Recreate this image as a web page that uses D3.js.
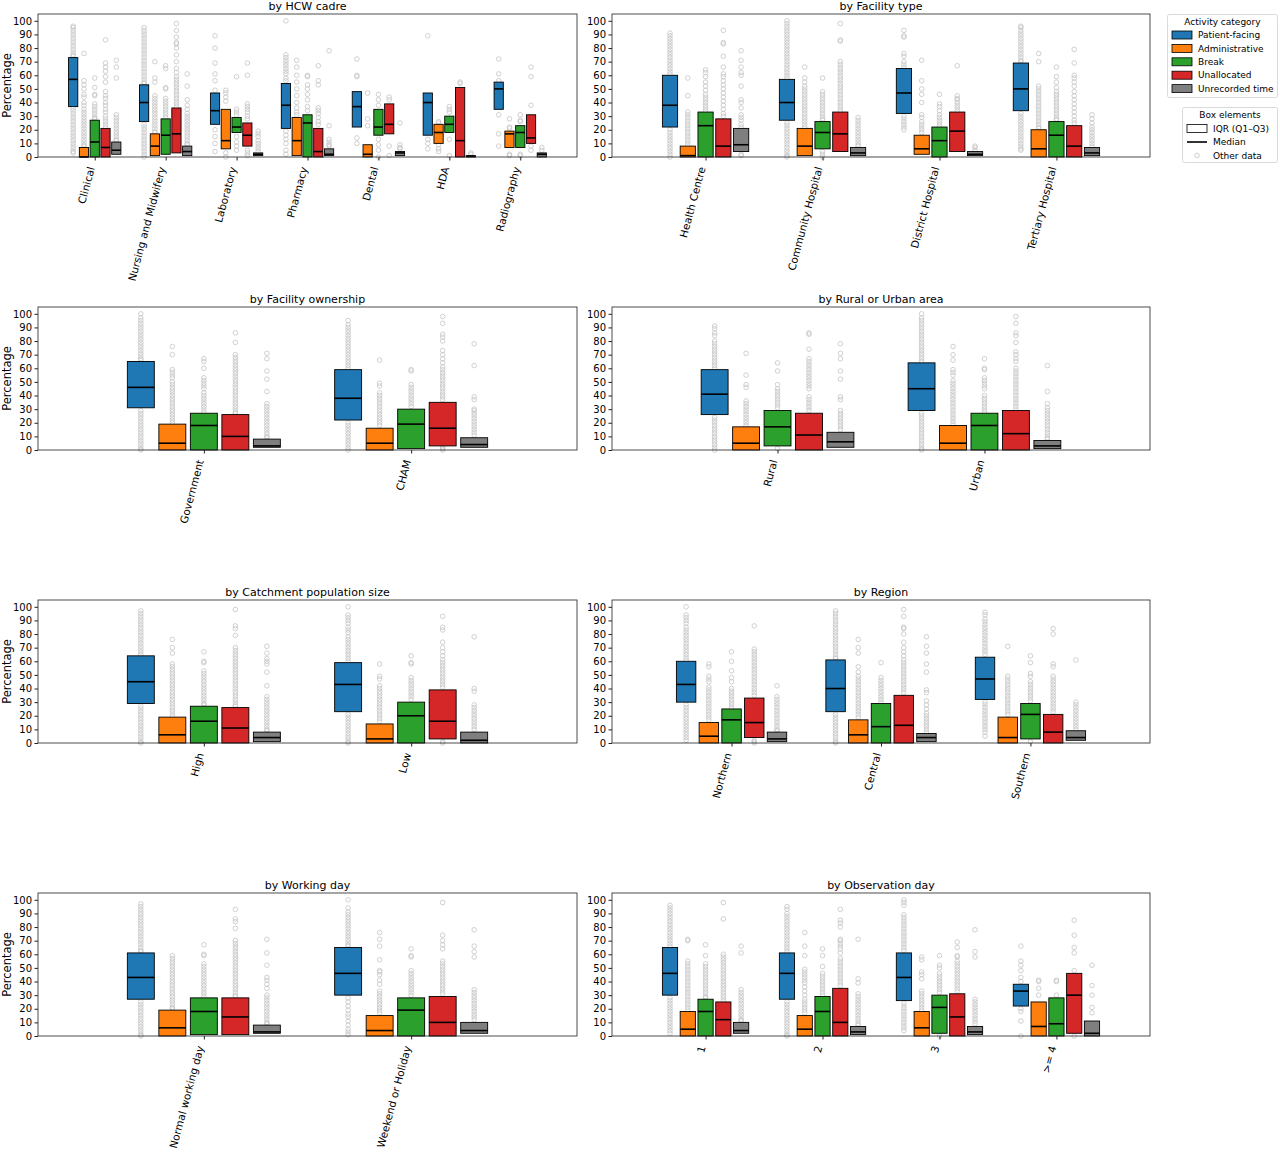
<!DOCTYPE html>
<html>
<head>
<meta charset="utf-8">
<script src="https://cdn.jsdelivr.net/npm/d3@7"></script>
<style>
  body { margin: 0; background: #fff; }
  text { font-family: "DejaVu Sans", sans-serif; fill: #000; }
</style>
</head>
<body>
<div id="chart"></div>
<script>
// Activity categories (one box per category inside every group)
var categories = ["Patient-facing", "Administrative", "Break", "Unallocated", "Unrecorded time"];
var categoryColors = ["#1f77b4", "#ff7f0e", "#2ca02c", "#d62728", "#7f7f7f"];
var yTicks = [0, 10, 20, 30, 40, 50, 60, 70, 80, 90, 100];

var panelTitles = ["by HCW cadre", "by Facility type", "by Facility ownership", "by Rural or Urban area",
    "by Catchment population size", "by Region", "by Working day", "by Observation day"];

// Each box is [Q1, median, Q3]; "other data" are the points drawn outside the box
var cadreGroups = ["Clinical", "Nursing and Midwifery", "Laboratory", "Pharmacy", "Dental", "HDA", "Radiography"];
var cadreStats = [
    [[37, 57, 73], [0, 0, 7], [0, 11, 27], [0, 7, 21], [2, 5, 11]],
    [[26, 40, 53], [1, 8, 17], [2, 16, 28], [3, 17, 36], [1, 4, 8]],
    [[24, 34, 47], [6, 12, 35], [18, 22, 29], [8, 16, 25], [1, 2, 3]],
    [[21, 38, 54], [1, 12, 29], [0, 25, 31], [0, 4, 21], [1, 2, 6]],
    [[22, 37, 48], [0, 2, 9], [16, 22, 35], [17, 24, 39], [1, 3, 4]],
    [[16, 40, 47], [10, 18, 24], [18, 24, 30], [0, 12, 51], [0, 0.5, 1]],
    [[35, 50, 55], [7, 17, 19], [7, 18, 23], [10, 14, 31], [0, 2, 3]]
];
var cadreOther = [
    ["96 95 93 91 89 87 85 83 81 79 77 75 74 36 34 32 30 28 26 24 22 20 18 16 14 12 10 8 6 4 3",
     "76 56 53 50 46 44 40 38 35 33 31 29 27 25 23 21 19 17 15 13 11 9 8",
     "58 51 46 45 39 37 35 33 31 29 28",
     "86 69 66 63 59 55 48 45 43 40 38 35 33 30 28 26 24 22",
     "71 66 58 31 29 27 25 23 21 19 17 15 13 12"],
    ["95 93 91 89 87 85 83 81 79 77 75 73 71 69 67 65 63 61 59 57 55 54 24 22 20 18 16 14 12 10 8 6 4 2 0",
     "70 58 55 45 43 41 39 37 35 33 31 29 27 25 23 21 19 18",
     "67 65 51 50 43 41 39 37 35 33 31 29",
     "98 93 88 84 83 80 75 70 65 62 59 57 55 53 51 49 47 45 43 41 39 37",
     "61 52 42 38 35 32 30 28 26 24 22 20 18 16 14 12 10 9"],
    ["89 80 69 61 56 49 20 15 10 4", "49 47 44 41 3 0", "59 35 33 31 15 11 8 5",
     "69 60 39 37 35 33 30 28 5 3 1", "19 17 15 12 10 8 6 4"],
    ["100 75 73 71 69 67 65 63 61 58 56 19 16 13 10 5 2", "71 66 60 55 50 45 40 36 33 31",
     "60 59 53 50 46 42 37 34", "67 56 53 36 34 32 29 26 24", "78 23 13 11 9 8"],
    ["72 60 59 14 10", "47 28 23", "46 42 38 13 9 5 0", "44 42 8 1", "25 9 7 6"],
    ["89 13 10 6", "26 25 9 6 4", "37 35 33 13 1", "55 54", "3 2"],
    ["72 61 56 31 17 8", "28 22 21 2 1", "31 27 26 2 1", "66 59 38 8 5", "7 5"]
];

var typeGroups = ["Health Centre", "Community Hospital", "District Hospital", "Tertiary Hospital"];
var typeStats = [
    [[22, 38, 60], [0, 1, 8], [0, 23, 33], [0, 8, 28], [4, 9, 21]],
    [[27, 40, 57], [1, 8, 21], [6, 18, 26], [4, 17, 33], [1, 3, 7]],
    [[32, 47, 65], [2, 6, 16], [0, 12, 22], [4, 19, 33], [1, 2, 4]],
    [[34, 50, 69], [0, 6, 20], [0, 16, 26], [0, 8, 23], [1, 3, 7]]
];
var typeOther = [
    ["91 89 87 85 83 81 79 77 75 73 71 69 67 65 63 61 20 18 16 14 12 10 8 6 4 2 0",
     "58 45 33 31 29 27 25 23 21 19 17 15 13 11 9",
     "64 62 59 55 52 49 46 44 42 40 38 36 34",
     "93 84 83 74 66 61 59 56 53 50 47 44 41 38 35 32 30",
     "78 71 66 62 60 52 42 40 36 31 29 27 24 22 2 1"],
    ["100 98 96 94 92 90 88 86 84 82 80 78 76 74 72 70 68 66 64 62 60 58 25 23 21 19 17 15 13 11 9 7 5 3 1 0",
     "66 58 55 52 50 48 46 44 42 40 38 36 34 32 30 28 26 24 22",
     "58 48 46 44 42 40 38 36 34 32 30 28 27 4 2 0",
     "98 86 85 70 68 66 64 62 60 58 56 54 52 50 48 46 44 42 40 38 36 34",
     "29 27 25 23 21 19 17 15 13 11 9 8"],
    ["93 89 88 76 74 70 68 66 30 28 26 24 22 20",
     "71 56 50 46 40 31 29 26 24 22 20 18",
     "46 39 37 34 31 29 27 25 23",
     "67 45 43 42 40 38 36 34",
     "8 7 5"],
    ["96 95 93 91 89 87 85 83 81 79 77 75 73 71 70 32 30 28 26 24 22 20 18 16 14 12 10 8 6 5",
     "76 70 52 50 48 46 44 42 40 38 36 34 32 30 28 26 24 22 21",
     "66 59 55 51 48 46 44 42 40 38 36 34 32 30 28 27",
     "79 69 60 58 55 52 48 45 42 39 36 33 30 27 25",
     "31 28 25 22 20 18 16 14 12 10 8"]
];

var ownershipGroups = ["Government", "CHAM"];
var ownershipStats = [
    [[31, 46, 65], [0, 5, 19], [0, 18, 27], [0, 10, 26], [2, 3, 8]],
    [[22, 38, 59], [0, 5, 16], [1, 19, 30], [3, 16, 35], [2, 4, 9]]
];
var ownershipOther = [
    ["100 97 95 93 91 89 87 85 83 81 79 77 75 73 71 69 67 66 29 27 25 23 21 19 17 15 13 11 9 7 5 3 1 0",
     "76 70 59 57 55 53 50 48 46 44 42 40 38 36 34 32 30 28 26 24 22 20",
     "67 65 60 53 51 49 47 45 42 40 38 36 34 32 30 28",
     "86 79 70 68 66 64 62 60 58 56 54 52 50 48 46 44 42 40 38 36 34 32 30 28 27",
     "71 67 58 52 43 34 32 30 28 26 24 22 20 18 16 14 12 10 9"],
    ["95 92 90 88 86 84 82 80 78 76 74 72 70 68 66 64 62 60 20 18 16 14 12 10 8 6 4 2 0",
     "66 49 47 42 40 38 36 34 32 30 28 26 24 22 20 18",
     "59 58 48 46 44 42 40 38 36 34 32",
     "98 93 85 83 80 73 70 67 64 61 59 57 55 53 51 49 47 45 43 41 39 37 2 1 0",
     "78 62 39 37 30 29 27 25 23 21 19 17 15 13 11"]
];

var areaGroups = ["Rural", "Urban"];
var areaStats = [
    [[26, 41, 59], [0, 5, 17], [3, 17, 29], [0, 11, 27], [2, 6, 13]],
    [[29, 45, 64], [0, 5, 18], [0, 18, 27], [0, 12, 29], [1, 3, 7]]
];
var areaOther = [
    ["91 89 86 84 80 78 76 74 72 70 68 66 64 62 60 24 22 20 18 16 14 12 10 8 6 4 2 0",
     "71 55 48 46 36 34 32 30 28 26 24 22 20 18",
     "64 58 48 45 43 41 39 37 35 33 31 1",
     "86 85 74 67 65 63 61 59 57 55 53 51 49 47 45 39 37 35 33 31 29",
     "78 71 67 58 52 39 37 29 27 25 23 21 19 17 15"],
    ["100 97 95 93 91 89 87 85 83 81 79 77 75 73 71 69 67 65 27 25 23 21 19 17 15 13 11 9 7 5 3 1 0",
     "76 70 66 59 57 55 51 49 47 45 43 41 39 37 35 33 31 29 27 25 23 21 19",
     "67 60 59 53 51 49 47 45 40 38 36 34 32 30 28",
     "98 93 86 84 79 72 70 67 65 60 58 56 54 52 50 48 46 44 42 40 38 36 34 32 30",
     "62 43 34 31 29 27 25 23 21 19 17 15 13 11 9 8"]
];

var catchmentGroups = ["High", "Low"];
var catchmentStats = [
    [[29, 45, 64], [0, 6, 19], [0, 16, 27], [0, 11, 26], [1, 4, 8]],
    [[23, 43, 59], [0, 3, 14], [0, 20, 30], [3, 16, 39], [0, 2, 8]]
];
var catchmentOther = [
    ["97 95 93 91 89 87 85 83 81 79 77 75 73 71 69 67 65 27 25 23 21 19 17 15 13 11 9 7 5 3 1 0",
     "76 70 66 58 56 54 52 50 48 46 44 42 40 38 36 34 32 30 28 26 24 22 20",
     "67 60 59 53 51 49 47 45 43 41 39 37 35 33 31 29 28",
     "98 86 84 79 70 68 66 64 62 60 58 56 54 52 50 48 46 44 42 40 38 36 34 32 30 28 27",
     "71 66 62 60 58 52 42 34 32 30 28 26 24 22 20 18 16 14 12 10 9"],
    ["100 94 92 90 88 85 83 81 78 76 74 72 70 68 66 64 62 60 21 19 17 15 13 11 9 7 5 3 1 0",
     "58 49 47 42 40 38 36 34 32 30 28 26 24 22 20 18 16",
     "64 59 58 48 46 44 42 40 38 36 34 32",
     "93 85 83 74 70 67 64 61 59 57 55 53 51 49 47 45 43 41 1 0",
     "78 40 38 28 26 24 22 20 18 16 14 12 10"]
];

var regionGroups = ["Northern", "Central", "Southern"];
var regionStats = [
    [[30, 43, 60], [0, 5, 15], [0, 17, 25], [4, 15, 33], [1, 3, 8]],
    [[23, 40, 61], [0, 6, 17], [0, 12, 29], [0, 13, 35], [1, 4, 7]],
    [[32, 47, 63], [0, 4, 19], [3, 21, 29], [0, 8, 21], [2, 4, 9]]
];
var regionOther = [
    ["100 94 92 90 88 85 83 81 79 77 75 73 71 69 67 65 63 61 28 26 24 22 20 18 16 14 12 10 8 6 4 2",
     "58 56 49 47 45 41 39 37 35 33 31 29 27 25 23 21 19 17",
     "67 60 53 48 45 40 38 36 34 32 30 28 26",
     "86 69 67 65 63 61 59 57 55 53 51 49 47 45 43 41 39 37 35 2 1 0",
     "42 34 32 30 28 26 24 22 20 18 16 14 12 10 9"],
    ["97 95 93 91 89 87 85 83 81 79 77 75 73 71 69 67 65 63 62 21 19 17 15 13 11 9 7 5 3 1 0",
     "76 70 66 56 52 49 47 45 43 41 39 37 35 33 31 29 27 25 23 21 19",
     "59 48 46 44 42 40 38 36 34 32 30",
     "98 93 85 84 80 74 70 67 64 61 59 57 55 53 51 49 47 45 43 41 39 37",
     "78 71 66 58 52 39 37 31 28 25 22 20 18 16 14 12 10 8"],
    ["96 94 91 89 87 85 83 81 79 77 75 73 71 69 67 65 30 28 26 24 22 20 18 16 14 12 10 8 5",
     "71 49 47 45 43 41 39 37 35 33 31 29 27 25 23 21",
     "64 59 51 49 45 43 41 39 37 35 33 31 1",
     "84 80 58 56 49 47 45 43 41 39 37 35 33 31 29 27 25 23",
     "61 30 28 26 24 22 20 18 16 14 12 10"]
];

var workdayGroups = ["Normal working day", "Weekend or Holiday"];
var workdayStats = [
    [[27, 43, 61], [0, 6, 19], [1, 18, 28], [1, 14, 28], [2, 3, 8]],
    [[30, 46, 65], [0, 4, 15], [0, 19, 28], [0, 10, 29], [2, 4, 10]]
];
var workdayOther = [
    ["97 95 93 91 89 87 85 83 81 79 77 75 73 71 69 67 65 63 62 25 23 21 19 17 15 13 11 9 7 5 3 1 0",
     "59 57 55 53 51 49 47 45 43 41 39 37 35 33 31 29 27 25 23 21 20",
     "67 60 59 53 51 49 47 45 43 41 39 37 35 33 31 29",
     "93 86 84 79 70 68 66 64 62 60 58 56 54 52 50 48 46 44 42 40 38 36 34 32 30 29",
     "71 61 52 43 41 38 35 30 28 26 24 22 20 18 16 14 12 10 9"],
    ["100 94 91 89 87 85 83 81 79 77 75 73 71 69 67 66 28 25 22 19 16 14 11 8 5 3 1",
     "76 71 66 56 48 47 45 41 38 33 31 29 27 25 23 21 19 17",
     "64 59 58 48 46 44 42 40 38 36 34 32 30",
     "98 74 70 67 64 55 53 51 49 47 45 43 41 39 37 35 33 31",
     "78 66 62 58 34 32 30 28 26 24 22 20 18 16 14 12"]
];

var obsdayGroups = ["1", "2", "3", ">= 4"];
var obsdayStats = [
    [[30, 46, 65], [0, 5, 18], [0, 18, 27], [0, 12, 25], [2, 4, 10]],
    [[27, 46, 61], [0, 5, 15], [0, 18, 29], [0, 10, 35], [1, 3, 7]],
    [[26, 43, 61], [0, 6, 18], [2, 21, 30], [0, 14, 31], [1, 3, 7]],
    [[22, 33, 38], [0, 7, 25], [0, 9, 28], [2, 30, 46], [0, 2, 11]]
];
var obsdayOther = [
    ["96 94 92 90 88 86 84 82 80 78 76 74 72 70 68 66 28 26 24 22 20 18 16 14 12 10 8 6 4 2",
     "71 70 55 53 51 49 47 45 43 41 39 37 35 33 31 29 27 25 23 21 19",
     "67 59 53 51 49 47 45 43 41 39 37 35 33 31 29 28",
     "98 86 60 58 56 54 52 50 48 46 44 42 40 38 36 34 32 30 28 26",
     "66 61 34 32 30 28 26 24 22 20 18 16 14 12 11"],
    ["95 93 90 88 86 84 82 80 78 76 74 72 70 68 66 64 62 25 23 21 19 17 15 13 11 9 7 5 3 1 0",
     "76 66 59 49 47 45 43 41 39 36 33 30 27 25 23 21 19 17",
     "64 59 51 46 44 42 40 38 36 34 32 30",
     "93 85 83 80 71 70 68 66 64 61 57 55 53 51 49 47 45 43 41 39 37",
     "71 42 39 31 29 27 25 23 21 19 17 15 13 11 9 8"],
    ["100 98 96 89 87 85 83 81 79 77 75 73 71 69 67 65 63 24 22 20 18 16 14 12 10 8 6 4",
     "58 56 47 45 42 33 31 29 27 25 23 21 19",
     "59 52 50 46 44 42 40 38 36 34 32 0",
     "69 65 59 58 55 53 51 49 47 45 43 41 39 37 35 33",
     "78 62 58 27 25 23 21 19 17 15 13 11 9"],
    ["66 55 52 48 43 40 20 18 11 0", "41 40 35 30", "41 40 30", "85 74 65 61 48 0", "52 37 30 21 17"]
];

var panels = [
    { groups: cadreGroups, stats: cadreStats, other: cadreOther },
    { groups: typeGroups, stats: typeStats, other: typeOther },
    { groups: ownershipGroups, stats: ownershipStats, other: ownershipOther },
    { groups: areaGroups, stats: areaStats, other: areaOther },
    { groups: catchmentGroups, stats: catchmentStats, other: catchmentOther },
    { groups: regionGroups, stats: regionStats, other: regionOther },
    { groups: workdayGroups, stats: workdayStats, other: workdayOther },
    { groups: obsdayGroups, stats: obsdayStats, other: obsdayOther }
];

var svg = d3.select("#chart").append("svg")
    .attr("width", 1280)
    .attr("height", 1152);

var colLeft = [38, 612], colWidth = [539, 538];
var rowBottom = [157, 450, 743, 1036], plotHeight = 143;
var boxStep = 0.152, boxWidth = 0.13;

panels.forEach(function (p, i) {
    var col = i % 2, row = Math.floor(i / 2);
    var left = colLeft[col], width = colWidth[col];
    var bottom = rowBottom[row], top = bottom - plotHeight;
    var n = p.groups.length;

    var x = d3.scaleLinear().domain([-0.8, n - 0.2]).range([left, left + width]);
    var y = d3.scaleLinear().domain([0, 105]).range([bottom, top]);
    var half = (x(boxWidth) - x(0)) / 2;

    var g = svg.append("g");

    // other data points behind the boxes
    p.stats.forEach(function (groupStats, gi) {
        groupStats.forEach(function (s, ci) {
            var cx = x(gi + (ci - 2) * boxStep);
            var pts = p.other[gi][ci].split(" ").map(Number);
            g.selectAll(null)
                .data(pts)
                .enter()
                .append("circle")
                .attr("cx", cx)
                .attr("cy", function (d) { return y(d); })
                .attr("r", 2.3)
                .attr("fill", "none")
                .attr("stroke", "#c4c4c4")
                .attr("stroke-width", 0.8);
        });
    });

    // IQR boxes and medians
    p.stats.forEach(function (groupStats, gi) {
        groupStats.forEach(function (s, ci) {
            var cx = x(gi + (ci - 2) * boxStep);
            g.append("rect")
                .attr("x", cx - half)
                .attr("y", y(s[2]))
                .attr("width", half * 2)
                .attr("height", Math.max(y(s[0]) - y(s[2]), 0.5))
                .attr("fill", categoryColors[ci])
                .attr("stroke", "#000")
                .attr("stroke-width", 0.9);
            g.append("line")
                .attr("x1", cx - half)
                .attr("x2", cx + half)
                .attr("y1", y(s[1]))
                .attr("y2", y(s[1]))
                .attr("stroke", "#000")
                .attr("stroke-width", 1.6);
        });
    });

    // frame
    g.append("rect")
        .attr("x", left)
        .attr("y", top)
        .attr("width", width)
        .attr("height", plotHeight)
        .attr("fill", "none")
        .attr("stroke", "#222")
        .attr("stroke-width", 0.8);

    var yAxis = g.append("g")
        .attr("transform", "translate(" + left + ",0)")
        .call(d3.axisLeft(y).tickValues(yTicks).tickSize(3.5).tickSizeOuter(0).tickPadding(2.5));
    yAxis.select(".domain").remove();
    yAxis.selectAll("text").attr("font-size", 10).attr("font-family", "DejaVu Sans");
    yAxis.selectAll("line").attr("stroke", "#222");

    var xAxis = g.append("g")
        .attr("transform", "translate(0," + bottom + ")")
        .call(d3.axisBottom(x).tickValues(d3.range(n)).tickFormat(function (d) { return p.groups[d]; })
            .tickSize(3.5).tickSizeOuter(0));
    xAxis.select(".domain").remove();
    xAxis.selectAll("line").attr("stroke", "#222");
    xAxis.selectAll("text")
        .attr("font-size", 10.5)
        .attr("font-family", "DejaVu Sans")
        .attr("text-anchor", "end")
        .attr("x", 0)
        .attr("y", 0)
        .attr("dy", "0.35em")
        .attr("transform", "translate(-4,10) rotate(-75)");

    // title
    g.append("text")
        .attr("x", left + width / 2)
        .attr("y", top - 4)
        .attr("text-anchor", "middle")
        .attr("font-size", 11)
        .text(panelTitles[i]);

    if (col === 0) {
        g.append("text")
            .attr("transform", "translate(" + 11 + "," + (top + plotHeight / 2) + ") rotate(-90)")
            .attr("text-anchor", "middle")
            .attr("font-size", 11.5)
            .text("Percentage");
    }
});

// Legend: activity category
var legend = svg.append("g");
legend.append("rect")
    .attr("x", 1167.5).attr("y", 14.5).attr("width", 110).attr("height", 83).attr("rx", 2)
    .attr("fill", "#fff").attr("stroke", "#d0d0d0").attr("stroke-width", 0.8);
legend.append("text")
    .attr("x", 1222.5).attr("y", 25).attr("text-anchor", "middle").attr("font-size", 9)
    .text("Activity category");
categories.forEach(function (c, i) {
    var ly = 35 + i * 13.4;
    legend.append("rect")
        .attr("x", 1172).attr("y", ly - 4).attr("width", 20).attr("height", 8)
        .attr("fill", categoryColors[i]).attr("stroke", "#000").attr("stroke-width", 0.8);
    legend.append("text")
        .attr("x", 1198).attr("y", ly).attr("dy", "0.35em").attr("font-size", 9)
        .text(c);
});

// Legend: box elements
var legend2 = svg.append("g");
legend2.append("rect")
    .attr("x", 1182.5).attr("y", 107.5).attr("width", 95).attr("height", 55).attr("rx", 2)
    .attr("fill", "#fff").attr("stroke", "#d0d0d0").attr("stroke-width", 0.8);
legend2.append("text")
    .attr("x", 1230).attr("y", 118).attr("text-anchor", "middle").attr("font-size", 9)
    .text("Box elements");
legend2.append("rect")
    .attr("x", 1187).attr("y", 124.5).attr("width", 20).attr("height", 8)
    .attr("fill", "#fff").attr("stroke", "#000").attr("stroke-width", 0.8);
legend2.append("text")
    .attr("x", 1213).attr("y", 128.5).attr("dy", "0.35em").attr("font-size", 9).text("IQR (Q1–Q3)");
legend2.append("line")
    .attr("x1", 1187).attr("x2", 1207).attr("y1", 142).attr("y2", 142)
    .attr("stroke", "#000").attr("stroke-width", 1.6);
legend2.append("text")
    .attr("x", 1213).attr("y", 142).attr("dy", "0.35em").attr("font-size", 9).text("Median");
legend2.append("circle")
    .attr("cx", 1197).attr("cy", 155.5).attr("r", 2.3)
    .attr("fill", "none").attr("stroke", "#c4c4c4").attr("stroke-width", 0.8);
legend2.append("text")
    .attr("x", 1213).attr("y", 155.5).attr("dy", "0.35em").attr("font-size", 9).text("Other data");
</script>
</body>
</html>
